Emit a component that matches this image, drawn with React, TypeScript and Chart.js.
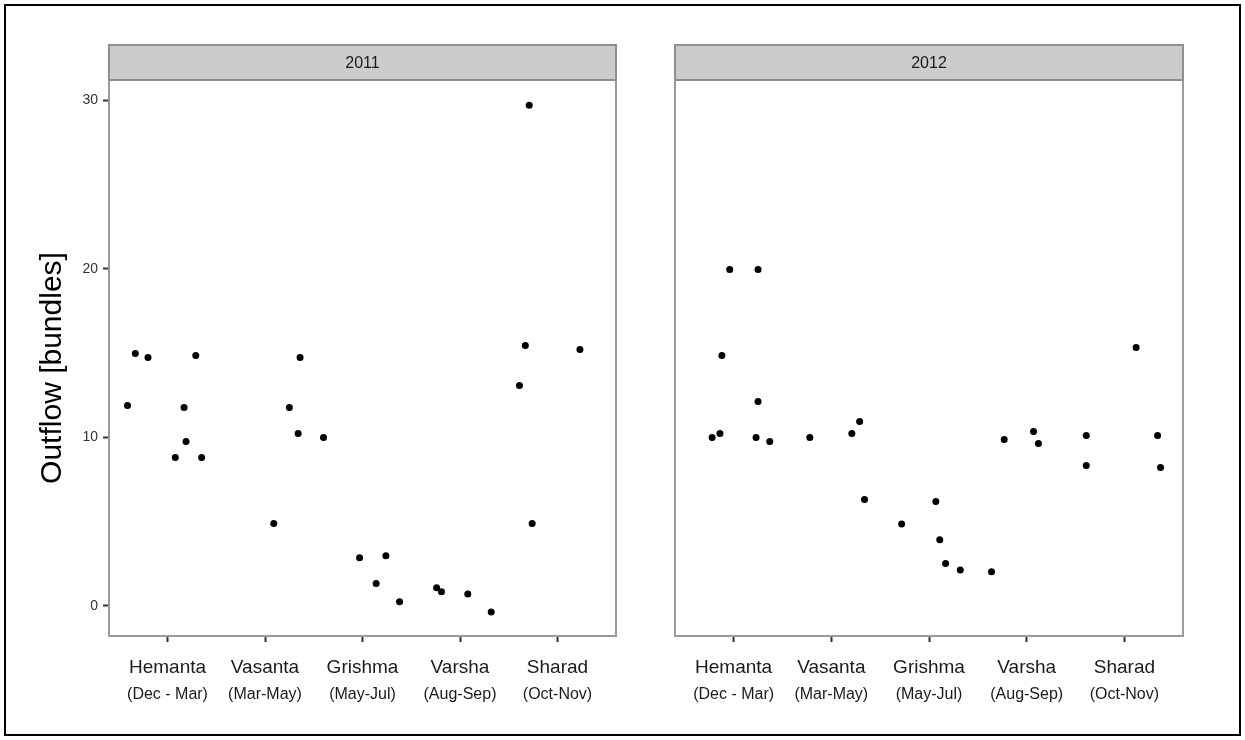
import React, { useEffect, useRef } from "react";
import { Chart, registerables } from "chart.js";

Chart.register(...registerables);

const FONT = "'Liberation Sans', Arial, Helvetica, sans-serif";

const seasons = ["Hemanta", "Vasanta", "Grishma", "Varsha", "Sharad"];
const seasonMonths = ["(Dec - Mar)", "(Mar-May)", "(May-Jul)", "(Aug-Sep)", "(Oct-Nov)"];
const yTicks = [0, 10, 20, 30];
const years = ["2011", "2012"];
const yTitle = "Outflow [bundles]";

// 2011: season index (1..5), horizontal jitter within the season, outflow
const season2011 = [1, 1, 1, 1, 1, 1, 1, 1, 2, 2, 2, 2, 3, 3, 3, 3, 3, 4, 4, 4, 4, 5, 5, 5, 5, 5];
const jitter2011 = [
  -0.41, -0.33, -0.2, 0.08, 0.17, 0.19, 0.29, 0.35,
  0.09, 0.25, 0.34, 0.36,
  -0.4, -0.03, 0.14, 0.24, 0.38,
  -0.24, -0.19, 0.08, 0.32,
  -0.39, -0.33, -0.29, -0.26, 0.23,
];
const outflow2011 = [
  11.88, 14.97, 14.73, 8.8, 11.76, 9.74, 14.85, 8.8,
  4.88, 11.76, 10.22, 14.73,
  9.98, 2.84, 1.32, 2.96, 0.23,
  1.06, 0.82, 0.7, -0.37,
  13.07, 15.44, 29.7, 4.88, 15.21,
];

// 2012
const season2012 = [1, 1, 1, 1, 1, 1, 1, 1, 2, 2, 2, 2, 3, 3, 3, 3, 3, 4, 4, 4, 4, 5, 5, 5, 5, 5];
const jitter2012 = [
  -0.22, -0.14, -0.12, -0.04, 0.23, 0.25, 0.25, 0.37,
  -0.22, 0.21, 0.29, 0.34,
  -0.28, 0.07, 0.11, 0.17, 0.32,
  -0.36, -0.23, 0.07, 0.12,
  -0.39, -0.39, 0.12, 0.34, 0.37,
];
const outflow2012 = [
  9.98, 10.22, 14.85, 19.95, 9.98, 12.12, 19.95, 9.74,
  9.98, 10.22, 10.93, 6.3,
  4.85, 6.18, 3.91, 2.5, 2.12,
  2.01, 9.86, 10.34, 9.63,
  10.1, 8.32, 15.32, 10.1, 8.2,
];

type PanelProps = {
  year: string;
  season: number[];
  jitter: number[];
  values: number[];
  left: number;
  width: number;
  padLeft: number;
  padRight: number;
  showY: boolean;
};

// Draws the panel frame, the facet strip and (for the first panel) the y title.
function facetPlugin(year: string, withTitle: boolean) {
  return {
    id: "facet" + year,
    afterDatasetsDraw(chart: any) {
      const { ctx, chartArea } = chart;
      const { left, right, top, bottom } = chartArea;
      ctx.save();
      ctx.strokeStyle = "#9a9a9a";
      ctx.lineWidth = 2;
      ctx.strokeRect(left, top, right - left, bottom - top);

      const stripH = 35;
      ctx.fillStyle = "#cccccc";
      ctx.fillRect(left, top - stripH, right - left, stripH);
      ctx.strokeStyle = "#8f8f8f";
      ctx.strokeRect(left, top - stripH, right - left, stripH);
      ctx.fillStyle = "#1a1a1a";
      ctx.font = `16px ${FONT}`;
      ctx.textAlign = "center";
      ctx.textBaseline = "middle";
      ctx.fillText(year, (left + right) / 2, top - stripH / 2 + 1);

      if (withTitle) {
        ctx.translate(53, (top + bottom) / 2 + 10);
        ctx.rotate(-Math.PI / 2);
        ctx.fillStyle = "#000000";
        ctx.font = `30px ${FONT}`;
        ctx.fillText(yTitle, 0, 0);
      }
      ctx.restore();
    },
  };
}

function Panel(p: PanelProps) {
  const ref = useRef<HTMLCanvasElement | null>(null);

  useEffect(() => {
    if (!ref.current) return;
    const points = p.values.map((v, i) => ({ x: p.season[i] + p.jitter[i], y: v }));
    const seasonTicks = (s: any) => {
      s.ticks = seasons.map((_, i) => ({ value: i + 1 }));
    };
    const chart = new Chart(ref.current, {
      type: "scatter",
      data: {
        datasets: [
          {
            data: points,
            backgroundColor: "#000000",
            borderWidth: 0,
            pointRadius: 3.5,
            clip: false as any,
          },
        ],
      },
      options: {
        animation: false,
        responsive: false,
        events: [],
        layout: { padding: { left: p.padLeft, right: p.padRight, top: 80, bottom: 0 } },
        plugins: { legend: { display: false }, tooltip: { enabled: false }, title: { display: false } },
        scales: {
          x: {
            type: "linear",
            position: "bottom",
            weight: 0,
            min: 0.4,
            max: 5.6,
            afterBuildTicks: seasonTicks,
            afterFit: (s: any) => {
              s.height = 44;
            },
            border: { display: false },
            grid: { drawOnChartArea: false, drawTicks: true, tickLength: 6, tickWidth: 2, tickColor: "#333333" },
            ticks: {
              autoSkip: false,
              maxRotation: 0,
              padding: 14,
              color: "#1a1a1a",
              font: { family: FONT, size: 19 },
              callback: (v: any) => seasons[Math.round(v) - 1],
            },
          },
          x2: {
            type: "linear",
            position: "bottom",
            weight: 1,
            min: 0.4,
            max: 5.6,
            afterBuildTicks: seasonTicks,
            afterFit: (s: any) => {
              s.height = 60;
            },
            border: { display: false },
            grid: { display: false, drawTicks: false },
            ticks: {
              autoSkip: false,
              maxRotation: 0,
              padding: 5,
              color: "#1a1a1a",
              font: { family: FONT, size: 16 },
              callback: (v: any) => seasonMonths[Math.round(v) - 1],
            },
          },
          y: {
            type: "linear",
            display: p.showY,
            min: -1.8,
            max: 31.2,
            afterBuildTicks: (s: any) => {
              s.ticks = yTicks.map((v) => ({ value: v }));
            },
            afterFit: (s: any) => {
              if (p.showY) s.width = 109;
            },
            border: { display: false },
            grid: { drawOnChartArea: false, drawTicks: true, tickLength: 6, tickWidth: 2, tickColor: "#333333" },
            ticks: {
              padding: 5,
              color: "#333333",
              font: { family: FONT, size: 14 },
            },
            title: { display: false },
          },
        },
      },
      plugins: [facetPlugin(p.year, p.showY)],
    } as any);
    return () => chart.destroy();
  }, []);

  return (
    <canvas
      ref={ref}
      width={p.width}
      height={740}
      style={{ position: "absolute", left: p.left, top: 0, width: p.width, height: 740 }}
    />
  );
}

export default function App() {
  return (
    <div
      style={{
        position: "fixed",
        left: 0,
        top: 0,
        width: 1245,
        height: 740,
        background: "#ffffff",
        overflow: "hidden",
      }}
    >
      <Panel
        year={years[0]}
        season={season2011}
        jitter={jitter2011}
        values={outflow2011}
        left={0}
        width={640}
        padLeft={0}
        padRight={24}
        showY={true}
      />
      <Panel
        year={years[1]}
        season={season2012}
        jitter={jitter2012}
        values={outflow2012}
        left={640}
        width={605}
        padLeft={35}
        padRight={62}
        showY={false}
      />
      <div
        style={{
          position: "absolute",
          left: 4,
          top: 4,
          width: 1237,
          height: 732,
          boxSizing: "border-box",
          border: "2px solid #000000",
          pointerEvents: "none",
        }}
      />
    </div>
  );
}
